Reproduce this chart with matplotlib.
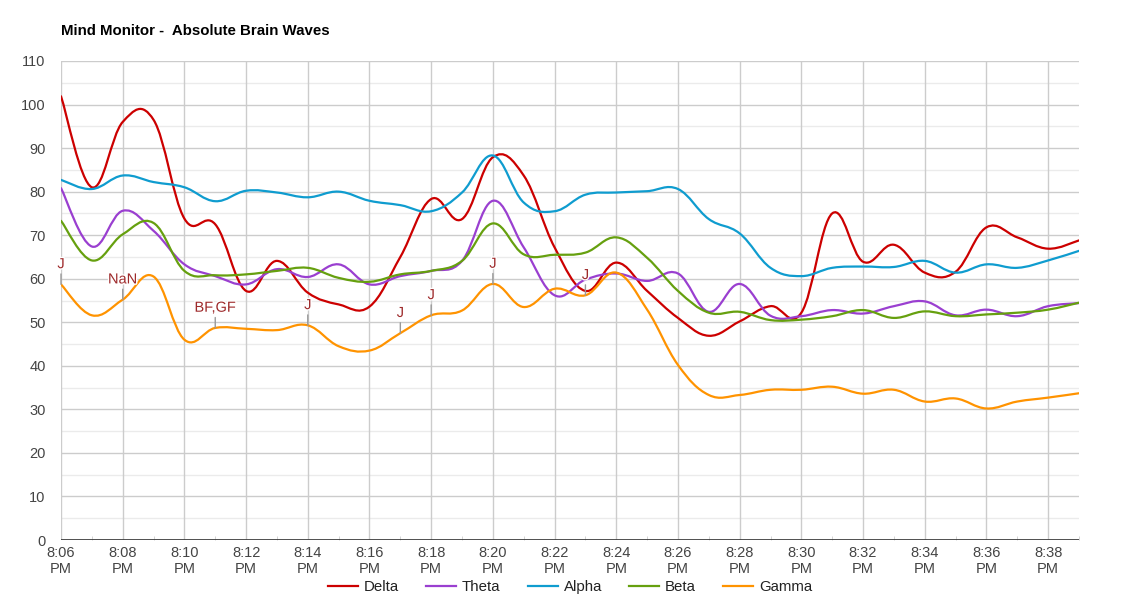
import numpy as np
import matplotlib
matplotlib.use("Agg")
import matplotlib.pyplot as plt
from matplotlib.path import Path
from matplotlib.patches import PathPatch
import matplotlib.patheffects as pe

plt.rcParams['font.family'] = ['Liberation Sans', 'DejaVu Sans']

# minutes after 8:06 PM, one sample per minute
minute = list(range(34))
tick_minutes = list(range(0, 34, 2))
tick_labels = ["8:06\nPM", "8:08\nPM", "8:10\nPM", "8:12\nPM", "8:14\nPM", "8:16\nPM",
               "8:18\nPM", "8:20\nPM", "8:22\nPM", "8:24\nPM", "8:26\nPM", "8:28\nPM",
               "8:30\nPM", "8:32\nPM", "8:34\nPM", "8:36\nPM", "8:38\nPM"]

delta = [101.9, 81.0, 96.0, 96.5, 73.8, 72.5, 57.2, 64.1, 56.8, 54.1, 53.6, 65.0,
         78.3, 73.7, 87.9, 83.7, 67.2, 57.2, 63.7, 57.2, 51.0, 46.9, 50.2, 53.7,
         52.2, 75.0, 63.9, 67.8, 61.4, 61.6, 71.8, 69.5, 66.9, 68.8]
theta = [80.8, 67.4, 75.6, 71.0, 63.3, 60.6, 58.7, 62.2, 60.4, 63.3, 58.7, 60.6,
         61.8, 64.1, 77.9, 67.2, 56.2, 59.8, 61.2, 59.5, 61.2, 52.4, 58.8, 51.5,
         51.4, 52.8, 52.0, 53.7, 54.8, 51.6, 52.9, 51.4, 53.7, 54.4]
alpha = [82.7, 80.6, 83.7, 82.2, 81.0, 77.8, 80.2, 79.8, 78.7, 80.0, 77.9, 76.9,
         75.5, 79.8, 88.3, 77.5, 75.5, 79.3, 79.8, 80.1, 80.6, 73.7, 70.4, 62.5,
         60.6, 62.5, 62.8, 62.7, 64.1, 61.4, 63.3, 62.5, 64.2, 66.4]
beta = [73.3, 64.2, 70.2, 72.8, 61.8, 60.8, 61.0, 61.8, 62.5, 60.2, 59.3, 61.0,
        61.8, 64.1, 72.7, 65.6, 65.5, 66.0, 69.5, 64.8, 57.2, 52.2, 52.4, 50.5,
        50.6, 51.4, 52.8, 51.0, 52.5, 51.4, 51.8, 52.2, 52.9, 54.5]
gamma = [58.7, 51.6, 55.2, 60.5, 46.0, 48.7, 48.5, 48.2, 49.3, 44.5, 43.5, 47.5,
         51.6, 52.7, 58.8, 53.5, 57.7, 56.2, 61.4, 52.9, 40.2, 33.3, 33.3, 34.5,
         34.5, 35.2, 33.6, 34.5, 31.8, 32.5, 30.2, 31.8, 32.7, 33.7]

# annotations sit on the Gamma series
note_minutes = [0, 2, 5, 8, 11, 12, 14, 17]
note_texts = ["J", "NaN", "BF,GF", "J", "J", "J", "J", "J"]

series = [("Delta", delta, "#cc0000"),
          ("Theta", theta, "#9a3fd0"),
          ("Alpha", alpha, "#0f9ccf"),
          ("Beta", beta, "#66a00f"),
          ("Gamma", gamma, "#ff9300")]


def smooth_path(xs, ys, k=0.19):
    n = len(xs)
    verts = [(xs[0], ys[0])]
    codes = [Path.MOVETO]
    for i in range(n - 1):
        a = max(i - 1, 0)
        b = min(i + 2, n - 1)
        c1 = (xs[i] + (xs[i + 1] - xs[a]) * k, ys[i] + (ys[i + 1] - ys[a]) * k)
        c2 = (xs[i + 1] - (xs[b] - xs[i]) * k, ys[i + 1] - (ys[b] - ys[i]) * k)
        verts += [c1, c2, (xs[i + 1], ys[i + 1])]
        codes += [Path.CURVE4] * 3
    return Path(verts, codes)


fig = plt.figure(figsize=(11.4, 6), dpi=100)
ax = fig.add_axes([61 / 1140, 60 / 600, 1018 / 1140, 479 / 600])

ax.set_xlim(0, 33)
ax.set_ylim(0, 110)

# grid
for v in range(0, 111, 10):
    ax.axhline(v, color="#cccccc", lw=1, zorder=0)
for v in range(5, 110, 10):
    ax.axhline(v, color="#ebebeb", lw=1, zorder=0)
for m in tick_minutes:
    ax.axvline(m, color="#cccccc", lw=1, zorder=0)
ax.axhline(0, color="#333333", lw=1.2, zorder=3)

for name, vals, col in series:
    patch = PathPatch(smooth_path(minute, vals), facecolor="none", edgecolor=col,
                      lw=1.6, zorder=2, capstyle="round", joinstyle="round")
    ax.add_patch(patch)
    ax.plot([], [], color=col, lw=1.6, label=name)

for m, txt in zip(note_minutes, note_texts):
    ax.annotate(txt, xy=(m, gamma[m]), xytext=(0, 9.5), textcoords="offset points",
                ha="center", va="bottom", fontsize=10.5, color="#9e2a2b",
                arrowprops=dict(arrowstyle="-", color="#999999", lw=1,
                                shrinkA=0, shrinkB=0),
                path_effects=[pe.withStroke(linewidth=2, foreground="white")],
                zorder=4)

for s in ax.spines.values():
    s.set_visible(False)

ax.set_xticks(tick_minutes)
ax.set_xticklabels(tick_labels)
ax.set_xticks(range(1, 34, 2), minor=True)
ax.tick_params(axis="x", which="major", length=0, pad=4, labelsize=10.5,
               labelcolor="#444444")
ax.tick_params(axis="x", which="minor", direction="in", length=3, color="#cccccc")
ax.set_yticks(range(0, 111, 10))
ax.tick_params(axis="y", length=0, pad=11, labelsize=10.5, labelcolor="#444444")

fig.text(61 / 1140, 1 - 35 / 600, "Mind Monitor -  Absolute Brain Waves",
         fontsize=10.8, fontweight="bold", color="#000000", ha="left", va="baseline")

ax.legend(loc="center", bbox_to_anchor=(570 / 1140, 13 / 600),
          bbox_transform=fig.transFigure, ncol=5, frameon=False, fontsize=10.8,
          handlelength=2.0, handletextpad=0.4, columnspacing=1.8,
          labelcolor="#222222")

fig.savefig("out.png", dpi=100)
